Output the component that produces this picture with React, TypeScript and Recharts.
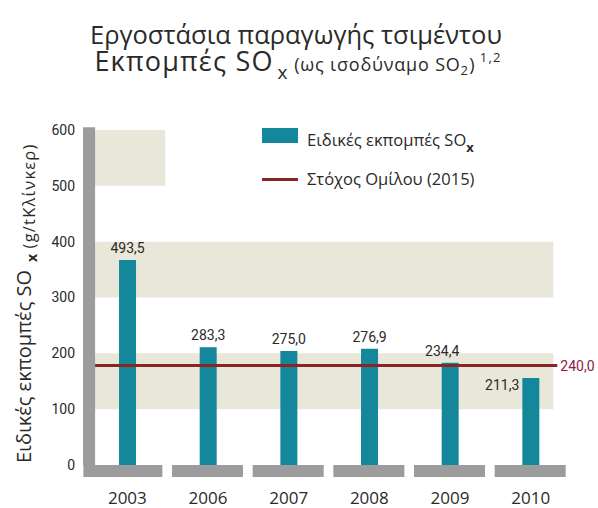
import {
  BarChart,
  Bar,
  XAxis,
  YAxis,
  ReferenceArea,
  ReferenceLine,
  LabelList,
  Legend,
} from "recharts";

const YEARS = ["2003", "2006", "2007", "2008", "2009", "2010"];
const EMISSIONS = [367, 211, 204, 208, 183, 156];
const VALUE_LABELS = ["493,5", "283,3", "275,0", "276,9", "234,4", "211,3"];
const TARGET = 178;
const TARGET_LABEL = "240,0";
const Y_TICKS = [0, 100, 200, 300, 400, 500, 600];
const BANDS = [
  [100, 200],
  [300, 400],
  [500, 600],
];

const TEAL = "#15879a";
const RED = "#8b2525";
const GRAY = "#9c9c9c";
const BEIGE = "#e8e7d9";
const TEXT = "#2a2a2a";
const SANS = "'Open Sans', 'DejaVu Sans', sans-serif";
const NARROW = "Roboto, 'Liberation Sans', sans-serif";

const data = YEARS.map((year, i) => ({
  idx: i,
  year,
  value: EMISSIONS[i],
  label: VALUE_LABELS[i],
}));

function YearTick(props: any) {
  const { x, y, payload, index } = props;
  const left = index === 0 ? x - 44 : x - 36;
  const right = x + 35;
  return (
    <g>
      <rect x={left} y={y} width={right - left} height={12} fill={GRAY} />
      <text
        x={x}
        y={y + 39}
        textAnchor="middle"
        fontFamily={SANS}
        fontSize={17}
        fill={TEXT}
      >
        {YEARS[payload.value]}
      </text>
    </g>
  );
}

function ValueLabel(props: any) {
  const { x, y, width, index } = props;
  const text = VALUE_LABELS[index];
  // last bar has its label on the left side
  if (index === YEARS.length - 1) {
    return (
      <text x={x - 3} y={y + 12} textAnchor="end" fontFamily={NARROW} fontSize={14} fill={TEXT}>
        {text}
      </text>
    );
  }
  const dx = index === 4 ? -8 : 0;
  return (
    <text
      x={x + width / 2 + dx}
      y={y - 7}
      textAnchor="middle"
      fontFamily={NARROW}
      fontSize={14}
      fill={TEXT}
    >
      {text}
    </text>
  );
}

function LegendBox() {
  return (
    <svg width={260} height={70}>
      <rect x={0} y={4} width={36} height={15} fill={TEAL} />
      <text x={45} y={22} fontFamily={SANS} fontSize={16.5} fill={TEXT}>
        Ειδικές εκπομπές SO
        <tspan fontSize={13} fontWeight="bold" dy={6}>
          x
        </tspan>
      </text>
      <rect x={0} y={54} width={36} height={3} fill={RED} />
      <text x={45} y={61} fontFamily={SANS} fontSize={16.5} fill={TEXT}>
        Στόχος Ομίλου (2015)
      </text>
    </svg>
  );
}

export default function App() {
  return (
    <div
      style={{
        position: "absolute",
        left: 0,
        top: 0,
        width: 598,
        height: 508,
        background: "#fff",
      }}
    >
      <BarChart
        width={598}
        height={508}
        data={data}
        margin={{ top: 130, right: 27, bottom: 0, left: 0 }}
      >
        <XAxis
          type="number"
          dataKey="idx"
          domain={[-0.55, 5.5]}
          ticks={[0, 1, 2, 3, 4, 5]}
          interval={0}
          allowDataOverflow
          tick={<YearTick />}
          tickLine={false}
          axisLine={false}
          tickSize={0}
          tickMargin={0}
          height={43}
        />
        <YAxis
          domain={[0, 600]}
          ticks={Y_TICKS}
          width={83}
          axisLine={false}
          tickLine={false}
          tick={{ fontFamily: NARROW, fontSize: 14, fill: TEXT }}
        />
        {BANDS.map(([lo, hi]) => (
          <ReferenceArea
            key={lo}
            x1={-0.4}
            x2={lo >= 500 ? 0.47 : 5.28}
            y1={lo}
            y2={hi}
            fill={BEIGE}
            fillOpacity={1}
            stroke="none"
            ifOverflow="visible"
          />
        ))}
        <ReferenceArea
          x1={-0.55}
          x2={-0.4}
          y1={0}
          y2={605}
          fill={GRAY}
          fillOpacity={1}
          stroke="none"
          ifOverflow="visible"
        />
        <Bar dataKey="value" fill={TEAL} barSize={17} isAnimationActive={false}>
          <LabelList dataKey="label" content={<ValueLabel />} />
        </Bar>
        <ReferenceLine
          segment={[
            { x: -0.4, y: TARGET },
            { x: 5.33, y: TARGET },
          ]}
          stroke={RED}
          strokeWidth={3}
          ifOverflow="visible"
          label={{
            value: TARGET_LABEL,
            position: "right",
            offset: 3,
            fill: "#8c2144",
            fontFamily: NARROW,
            fontSize: 14,
          }}
        />
        <Legend
          layout="horizontal"
          verticalAlign="middle"
          width={260}
          wrapperStyle={{ left: 262, top: 124, width: 260, height: 70 }}
          content={<LegendBox />}
        />
      </BarChart>
      <svg
        width={598}
        height={508}
        style={{ position: "absolute", left: 0, top: 0, pointerEvents: "none" }}
      >
        <text x={296} y={44} textAnchor="middle" fontFamily={SANS} fontSize={25.5} fill={TEXT}>
          Εργοστάσια παραγωγής τσιμέντου
        </text>
        <text
          x={298}
          y={71}
          textAnchor="middle"
          fontFamily={SANS}
          fontSize={27}
          letterSpacing={1.2}
          fill={TEXT}
        >
          Εκπομπές SO
          <tspan fontSize={19} dx={4} dy={8}>
            x
          </tspan>
          <tspan fontSize={18} letterSpacing={0.8} dy={-8}>
            {" (ως ισοδύναμο SO"}
          </tspan>
          <tspan fontSize={13} dy={4}>
            2
          </tspan>
          <tspan fontSize={18} dy={-4}>
            )
          </tspan>
          <tspan fontSize={13} dx={4} dy={-9}>
            1,2
          </tspan>
        </text>
        <text
          transform="translate(31,463) rotate(-90)"
          fontFamily={SANS}
          fontSize={20}
          fill={TEXT}
        >
          Ειδικές εκπομπές SO
          <tspan fontSize={14} fontWeight="bold" dx={8} dy={6}>
            x
          </tspan>
          <tspan fontSize={16.5} letterSpacing={1.2} dy={-2}>
            {" (g/tΚλίνκερ)"}
          </tspan>
        </text>
      </svg>
    </div>
  );
}
